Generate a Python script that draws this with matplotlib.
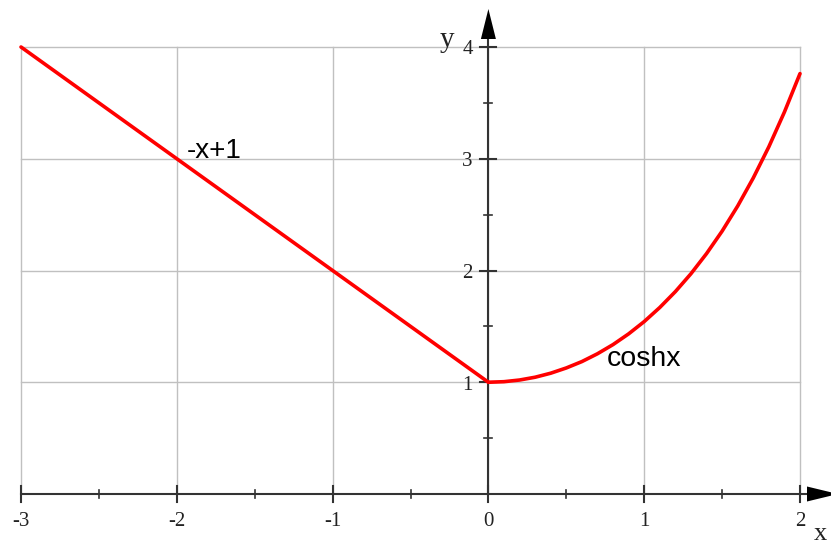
import matplotlib
matplotlib.use("Agg")
import matplotlib.pyplot as plt
from matplotlib.patches import Polygon

# ---- data ----
line_x = [-3.0, 0.0]
line_y = [4.0, 1.0]           # -x+1
cosh_x = [0.0, 0.1, 0.2, 0.3, 0.4, 0.5, 0.6, 0.7, 0.8, 0.9, 1.0,
          1.1, 1.2, 1.3, 1.4, 1.5, 1.6, 1.7, 1.8, 1.9, 2.0]
cosh_y = [1.000, 1.005, 1.020, 1.045, 1.081, 1.128, 1.185, 1.255, 1.337, 1.433, 1.543,
          1.669, 1.811, 1.971, 2.151, 2.352, 2.577, 2.828, 3.107, 3.418, 3.762]
x_major = [-3, -2, -1, 0, 1, 2]
x_minor = [-2.5, -1.5, -0.5, 0.5, 1.5]
y_major = [1, 2, 3, 4]
y_minor = [0.5, 1.5, 2.5, 3.5]
x_labels = ["-3", "-2", "-1", "0", "1", "2"]
y_labels = ["1", "2", "3", "4"]

W, H = 831, 546
fig = plt.figure(figsize=(W / 100, H / 100), dpi=100)
ax = fig.add_axes([0, 0, 1, 1])
ax.set_axis_off()

# pixel mapping: x=-3 -> 21px, x=2 -> 800px ; y=0 -> 494px, y=4 -> 47px (from top)
sx = 5 / 779.0
sy = 4 / 447.0
ax.set_xlim(-3 - 21 * sx, 2 + (W - 800) * sx)
ax.set_ylim(-(H - 494) * sy, 4 + 47 * sy)

grid_c = "#c0c0c0"
axis_c = "#333333"

# grid
for xv in x_major:
    ax.plot([xv, xv], [0, 4], color=grid_c, lw=1.0, zorder=1)
for yv in y_major:
    ax.plot([-3, 2], [yv, yv], color=grid_c, lw=1.0, zorder=1)

# axes
ax.plot([-3, 2 + 10 * sx], [0, 0], color=axis_c, lw=1.5, zorder=3)
ax.plot([0, 0], [0, 4 + 10 * sy], color=axis_c, lw=1.5, zorder=3)

# arrows
ax.add_patch(Polygon([[2 + 7 * sx, 7.5 * sy], [2 + 7 * sx, -7.5 * sy], [2 + 38 * sx, 0]],
                     closed=True, color="black", zorder=4, lw=0))
ax.add_patch(Polygon([[-7.5 * sx, 4 + 8 * sy], [7.5 * sx, 4 + 8 * sy], [0, 4 + 38 * sy]],
                     closed=True, color="black", zorder=4, lw=0))

# ticks
for xv in x_major:
    ax.plot([xv, xv], [-8 * sy, 8 * sy], color=axis_c, lw=1.5, zorder=3)
for xv in x_minor:
    ax.plot([xv, xv], [-4 * sy, 4 * sy], color=axis_c, lw=1.2, zorder=3)
for yv in y_major:
    ax.plot([-8 * sx, 8 * sx], [yv, yv], color=axis_c, lw=1.5, zorder=3)
for yv in y_minor:
    ax.plot([-4 * sx, 4 * sx], [yv, yv], color=axis_c, lw=1.2, zorder=3)

serif = ["Liberation Serif", "DejaVu Serif"]
sans = ["Liberation Sans", "DejaVu Sans"]

for xv, lab in zip(x_major, x_labels):
    ax.text(xv, -27 * sy, lab, ha="center", va="center", fontsize=15,
            family=serif, color="#222222")
for yv, lab in zip(y_major, y_labels):
    ax.text(-15.5 * sx, yv - 3 * sy, lab, ha="right", va="center", fontsize=15,
            family=serif, color="#222222")

ax.text(-3 + 419 * sx, 4.0, "y", ha="left", va="baseline", fontsize=21,
        family=serif, color="#222222")
ax.text(-3 + 793 * sx, -51.5 * sy, "x", ha="left", va="bottom", fontsize=19,
        family=serif, color="#222222")

# curves
ax.plot(line_x, line_y, color="red", lw=2.6, zorder=5, solid_capstyle="round")
ax.plot(cosh_x, cosh_y, color="red", lw=2.6, zorder=5, solid_capstyle="round")

ax.text(-3 + 166 * sx, 336 * sy, "-x+1", ha="left", va="baseline", fontsize=20,
        family=sans, color="black")
ax.text(-3 + 586 * sx, 128 * sy, "coshx", ha="left", va="baseline", fontsize=20.5,
        family=sans, color="black")

fig.savefig("out.png", dpi=100)
